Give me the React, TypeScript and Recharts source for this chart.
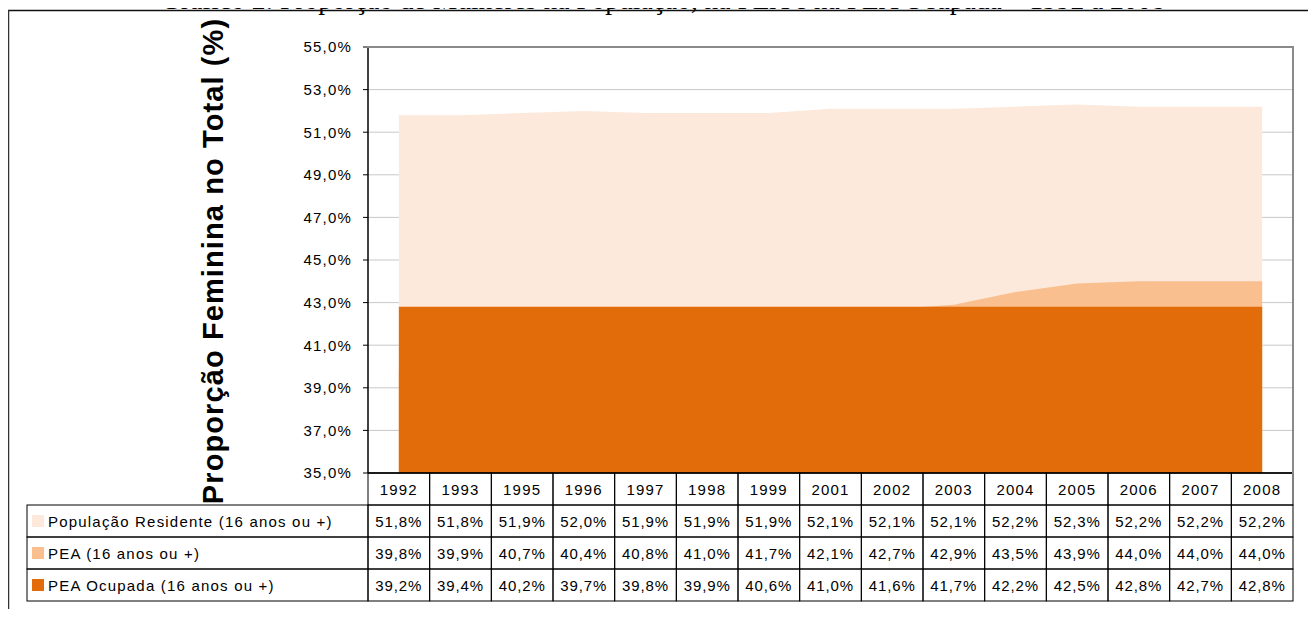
import React from 'react';
import { AreaChart, Area, XAxis, YAxis, CartesianGrid } from 'recharts';

const years = ['1992', '1993', '1995', '1996', '1997', '1998', '1999', '2001', '2002', '2003', '2004', '2005', '2006', '2007', '2008'];
const popResidente = [51.8, 51.8, 51.9, 52.0, 51.9, 51.9, 51.9, 52.1, 52.1, 52.1, 52.2, 52.3, 52.2, 52.2, 52.2];
const pea = [39.8, 39.9, 40.7, 40.4, 40.8, 41.0, 41.7, 42.1, 42.7, 42.9, 43.5, 43.9, 44.0, 44.0, 44.0];
const peaOcupada = [39.2, 39.4, 40.2, 39.7, 39.8, 39.9, 40.6, 41.0, 41.6, 41.7, 42.2, 42.5, 42.8, 42.7, 42.8];
// as drawn in the reference picture (dark area appears flat)
const peaOcupadaDrawn = [42.8, 42.8, 42.8, 42.8, 42.8, 42.8, 42.8, 42.8, 42.8, 42.8, 42.8, 42.8, 42.8, 42.8, 42.8];
const yTicks = [35, 37, 39, 41, 43, 45, 47, 49, 51, 53, 55];

const seriesNames = ['População Residente (16 anos ou +)', 'PEA (16 anos ou +)', 'PEA Ocupada (16 anos ou +)'];
const seriesColors = ['#FCE9DB', '#F9BF8F', '#E36C0A'];
const tableRows = [popResidente, pea, peaOcupada];

const data = years.map((y, i) => ({
  year: y,
  pop: popResidente[i],
  pea: pea[i],
  ocup: peaOcupadaDrawn[i],
}));

const CHART_W = 1316;
const CHART_H = 617;
const MARGIN = { top: 47, right: 23, bottom: 16, left: 308 };
const YAXIS_W = 60;
const PLOT_W = CHART_W - MARGIN.left - MARGIN.right - YAXIS_W;
const BW = PLOT_W / years.length;
const ROW_H = 32;
const LABEL_LEFT = 27;
const FONT = 'Arial, "Liberation Sans", sans-serif';

const fmt = (v: number) => v.toFixed(1).replace('.', ',') + '%';

const TableTick = (props: any) => {
  const { x, y, payload } = props;
  const idx = payload.index;
  const left = x - BW / 2;
  const els: React.ReactNode[] = [];
  els.push(
    <rect key="h" x={left} y={y} width={BW} height={ROW_H} fill="none" stroke="#000" strokeWidth={1} />
  );
  els.push(
    <text key="ht" x={x} y={y + ROW_H / 2} textAnchor="middle" dominantBaseline="central" fontSize={15} letterSpacing={1.2} fill="#000" fontFamily={FONT}>
      {payload.value}
    </text>
  );
  tableRows.forEach((row, r) => {
    const ry = y + ROW_H * (r + 1);
    els.push(<rect key={'r' + r} x={left} y={ry} width={BW} height={ROW_H} fill="none" stroke="#000" strokeWidth={1} />);
    els.push(
      <text key={'t' + r} x={x} y={ry + ROW_H / 2} textAnchor="middle" dominantBaseline="central" fontSize={15} letterSpacing={0.9} fill="#000" fontFamily={FONT}>
        {fmt(row[idx])}
      </text>
    );
  });
  if (idx === 0) {
    const lw = left - LABEL_LEFT;
    seriesNames.forEach((name, r) => {
      const ry = y + ROW_H * (r + 1);
      els.push(<rect key={'lr' + r} x={LABEL_LEFT} y={ry} width={lw} height={ROW_H} fill="none" stroke="#000" strokeWidth={1} />);
      els.push(<rect key={'ls' + r} x={LABEL_LEFT + 5} y={ry + 10} width={12} height={12} fill={seriesColors[r]} />);
      els.push(
        <text key={'lt' + r} x={LABEL_LEFT + 21} y={ry + ROW_H / 2} dominantBaseline="central" fontSize={15} letterSpacing={1.2} fill="#000" fontFamily={FONT}>
          {name}
        </text>
      );
    });
  }
  return <g>{els}</g>;
};

export default function App() {
  return (
    <div style={{ position: 'relative', width: CHART_W, height: CHART_H, margin: -8, background: '#fff', overflow: 'hidden' }}>
      <svg width={CHART_W} height={CHART_H} style={{ position: 'absolute', left: 0, top: 0 }}>
        <text x={663} y={9} textAnchor="middle" fontFamily='"Liberation Serif", "Times New Roman", serif' fontSize={27.5} fill="#000">
          Gráfico 2: Proporção de Mulheres na População, na PEA e na PEA Ocupada – 1992 a 2008
        </text>
        <line x1={8} y1={10.5} x2={1316} y2={10.5} stroke="#111" strokeWidth={1.5} />
        <line x1={8.5} y1={10} x2={8.5} y2={617} stroke="#333" strokeWidth={1.5} />
        <text transform="translate(223,261) rotate(-90)" textAnchor="middle" fontFamily={FONT} fontWeight="bold" fontSize={29} letterSpacing={1.1} fill="#000">
          Proporção Feminina no Total (%)
        </text>
      </svg>
      <div style={{ position: 'absolute', left: 0, top: 0 }}>
        <AreaChart width={CHART_W} height={CHART_H} data={data} margin={MARGIN}>
          <CartesianGrid vertical={false} stroke="#c8c8c8" strokeWidth={1} />
          <XAxis
            dataKey="year"
            scale="band"
            height={128}
            tickLine={false}
            tickSize={0}
            tickMargin={0}
            axisLine={{ stroke: '#000', strokeWidth: 1.5 }}
            interval={0}
            tick={<TableTick />}
          />
          <YAxis
            width={YAXIS_W}
            domain={[35, 55]}
            ticks={yTicks}
            tickFormatter={fmt}
            tickSize={5}
            tickMargin={11}
            tickLine={{ stroke: '#000' }}
            axisLine={{ stroke: '#000', strokeWidth: 1.5 }}
            tick={{ fill: '#000', fontSize: 15, fontFamily: FONT, letterSpacing: 1.2 }}
            allowDataOverflow
          />
          <Area type="linear" dataKey="pop" fill={seriesColors[0]} fillOpacity={1} stroke="none" baseValue="dataMin" isAnimationActive={false} />
          <Area type="linear" dataKey="pea" fill={seriesColors[1]} fillOpacity={1} stroke="none" baseValue="dataMin" isAnimationActive={false} />
          <Area type="linear" dataKey="ocup" fill={seriesColors[2]} fillOpacity={1} stroke="none" baseValue="dataMin" isAnimationActive={false} />
        </AreaChart>
      </div>
      <div style={{ position: 'absolute', left: 367, top: 46, width: 927, height: 428, borderTop: '2px solid #8a8a8a', borderRight: '2px solid #8a8a8a', boxSizing: 'border-box', pointerEvents: 'none' }} />
    </div>
  );
}
